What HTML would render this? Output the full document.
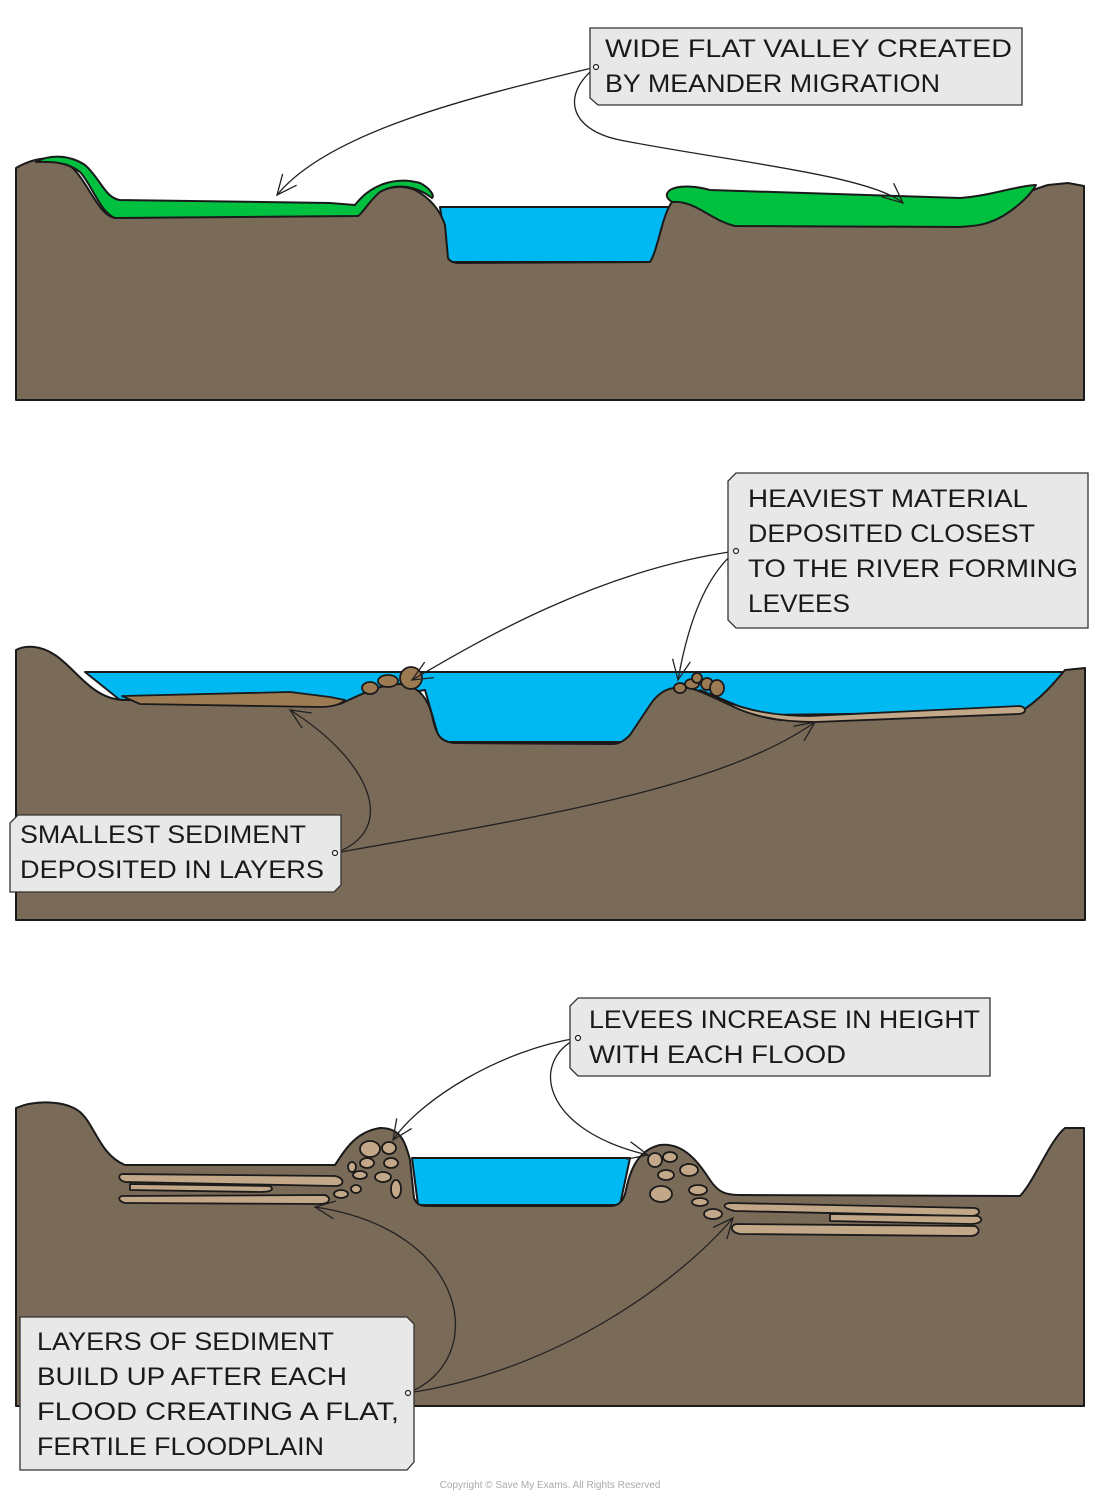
<!DOCTYPE html>
<html><head><meta charset="utf-8"><style>
html,body{margin:0;padding:0;background:#fff;}
svg{display:block;}
text{font-family:"Liberation Sans",sans-serif;font-size:25px;fill:#1a1a1a;}
</style></head><body>
<svg width="1100" height="1504" viewBox="0 0 1100 1504" xmlns="http://www.w3.org/2000/svg">
<defs>
<marker id="a" markerWidth="24" markerHeight="24" refX="22" refY="12" orient="auto" markerUnits="userSpaceOnUse">
<polyline points="2,3 22,12 2,21" fill="none" stroke="#222" stroke-width="1.3"/>
</marker>
</defs>
<g stroke="#1a1a1a" stroke-width="2" stroke-linejoin="round">
<!-- PANEL 1 -->
<path d="M440,207 L672,207 L660,262 L448,262 Z" fill="#00b9f2"/>
<path d="M16,168 C30,160 45,156 60,160 C85,168 95,215 115,218 L355,215 C370,190 395,182 415,190 C430,198 440,210 445,225 L448,258 C450,262 455,263 460,263 L650,262 C658,250 662,215 672,202 C690,190 705,205 735,212 L970,210 C1000,205 1030,190 1048,185 L1068,183 L1084,186 L1084,400 L16,400 Z" fill="#7a6a58"/>
<path d="M36,162 C50,154 70,155 85,165 C100,178 105,198 120,200 L330,203 L355,205 C370,185 395,176 420,183 C430,188 435,196 432,198 C415,185 395,183 380,192 C370,200 362,214 358,216 L115,218 C100,212 92,185 80,172 C65,160 45,162 36,162 Z" fill="#00c040"/>
<path d="M670,190 C680,184 700,187 710,190 L960,198 C990,196 1015,186 1036,185 C1030,196 1010,215 990,222 C980,226 970,226 960,227 L735,226 C710,220 695,200 672,202 C666,198 665,194 670,190 Z" fill="#00c040"/>
<!-- PANEL 2 -->
<path d="M85,672 L1062,672 L1062,700 L1030,712 L760,715 L700,690 L648,742 L440,742 L425,690 L345,703 L120,700 Z" fill="#00b9f2"/>
<path d="M16,650 C25,645 40,645 55,655 C70,665 80,680 95,690 C105,697 115,700 125,700 L340,704 C360,695 380,684 400,684 C420,686 428,700 432,715 C436,735 440,742 455,743 L612,744 C620,744 625,740 630,735 L650,705 C660,690 670,686 690,688 C715,695 740,715 780,720 L1020,712 C1040,700 1055,682 1065,670 L1085,668 L1085,920 L16,920 Z" fill="#7a6a58"/>
<path d="M122,696 L290,692 L330,697 L345,700 C340,705 330,707 320,707 L140,704 Z" fill="#9c7a52" stroke-width="1.8"/>
<path d="M722,700 C750,712 780,716 810,716 L1020,706 C1028,708 1026,714 1018,714 L815,722 C780,722 745,716 722,700 Z" fill="#c2a888" stroke-width="1.8"/>
<g fill="#9c7a52" stroke-width="1.8">
<ellipse cx="370" cy="688" rx="8" ry="6"/><ellipse cx="388" cy="681" rx="10" ry="6"/><circle cx="411" cy="678" r="11"/>
<ellipse cx="680" cy="688" rx="6" ry="5"/><ellipse cx="692" cy="684" rx="7" ry="5"/><circle cx="697" cy="678" r="5"/><ellipse cx="707" cy="684" rx="6" ry="6"/><ellipse cx="717" cy="688" rx="7" ry="8"/>
</g>
<!-- PANEL 3 -->
<path d="M412,1158 L630,1158 L620,1205 L418,1205 Z" fill="#00b9f2"/>
<path d="M16,1108 C35,1100 65,1100 80,1112 C95,1125 100,1155 125,1165 L335,1165 C345,1150 355,1132 380,1128 C400,1128 405,1140 410,1160 L414,1198 C416,1204 420,1206 428,1206 L612,1206 C620,1205 624,1200 626,1190 C630,1170 638,1150 660,1145 C685,1142 700,1165 710,1180 C718,1192 725,1195 740,1195 L1020,1196 C1035,1180 1050,1140 1065,1128 L1084,1128 L1084,1406 L16,1406 Z" fill="#7a6a58"/>
<g fill="#c2a888" stroke-width="1.8">
<path d="M122,1174 L335,1176 C345,1178 345,1186 335,1186 L125,1182 C118,1180 118,1175 122,1174 Z"/>
<path d="M130,1184 L270,1186 C275,1190 270,1192 260,1192 L130,1190 Z"/>
<path d="M122,1196 L325,1195 C332,1198 330,1204 320,1204 L125,1203 C118,1201 118,1197 122,1196 Z"/>
<path d="M730,1203 L975,1208 C982,1210 980,1216 970,1216 L735,1211 C722,1208 722,1204 730,1203 Z"/>
<path d="M830,1214 L978,1216 C985,1220 980,1224 970,1224 L830,1221 Z"/>
<path d="M736,1224 L975,1226 C982,1230 978,1236 970,1236 L740,1234 C730,1232 730,1226 736,1224 Z"/>
<ellipse cx="370" cy="1149" rx="10" ry="8"/><ellipse cx="389" cy="1148" rx="7" ry="6"/><ellipse cx="367" cy="1163" rx="7" ry="5"/><ellipse cx="391" cy="1163" rx="7" ry="5"/><ellipse cx="352" cy="1167" rx="4" ry="5"/><ellipse cx="360" cy="1175" rx="7" ry="4"/><ellipse cx="383" cy="1177" rx="8" ry="5"/><ellipse cx="396" cy="1189" rx="5" ry="9"/><ellipse cx="356" cy="1189" rx="5" ry="4"/><ellipse cx="341" cy="1194" rx="7" ry="4"/>
<ellipse cx="655" cy="1160" rx="7" ry="7"/><ellipse cx="670" cy="1157" rx="7" ry="5"/><ellipse cx="689" cy="1170" rx="9" ry="6"/><ellipse cx="666" cy="1175" rx="8" ry="5"/><ellipse cx="661" cy="1194" rx="11" ry="8"/><ellipse cx="698" cy="1190" rx="9" ry="5"/><ellipse cx="700" cy="1202" rx="8" ry="4"/><ellipse cx="713" cy="1214" rx="9" ry="5"/>
</g>
</g>
<!-- connectors -->
<g fill="none" stroke="#222" stroke-width="1.3">
<path d="M596,67 C480,95 330,130 277,195" marker-end="url(#a)"/>
<path d="M596,67 C560,95 570,130 620,140 C720,160 870,175 903,203" marker-end="url(#a)"/>
<path d="M736,551 C600,570 480,640 412,680" marker-end="url(#a)"/>
<path d="M736,551 C700,580 685,640 678,680" marker-end="url(#a)"/>
<path d="M335,853 C400,830 370,760 290,710" marker-end="url(#a)"/>
<path d="M335,853 C520,820 720,790 815,722" marker-end="url(#a)"/>
<path d="M578,1038 C500,1050 420,1100 393,1140" marker-end="url(#a)"/>
<path d="M578,1038 C530,1060 540,1130 648,1155" marker-end="url(#a)"/>
<path d="M408,1393 C490,1360 470,1230 315,1207" marker-end="url(#a)"/>
<path d="M408,1393 C560,1370 680,1280 733,1218" marker-end="url(#a)"/>
</g>
<!-- label boxes -->
<g fill="#e8e8e8" stroke="#333" stroke-width="1.3">
<path d="M590,28 L1022,28 L1022,105 L598,105 L590,98 Z"/>
<path d="M736,473 L1088,473 L1088,628 L736,628 L728,620 L728,481 Z"/>
<path d="M18,815 L341,815 L341,885 L334,892 L10,892 L10,823 Z"/>
<path d="M578,998 L990,998 L990,1076 L578,1076 L570,1068 L570,1006 Z"/>
<path d="M20,1317 L407,1317 L414,1324 L414,1462 L407,1470 L20,1470 Z"/>
</g>
<g fill="#fff" stroke="#222" stroke-width="1.2">
<circle cx="596" cy="67" r="2.5"/><circle cx="736" cy="551" r="2.5"/><circle cx="335" cy="853" r="2.5"/><circle cx="578" cy="1038" r="2.5"/><circle cx="408" cy="1393" r="2.5"/>
</g>
<text x="605" y="57" textLength="407" lengthAdjust="spacingAndGlyphs">WIDE FLAT VALLEY CREATED</text>
<text x="605" y="92" textLength="335" lengthAdjust="spacingAndGlyphs">BY MEANDER MIGRATION</text>
<text x="748" y="507" textLength="280" lengthAdjust="spacingAndGlyphs">HEAVIEST MATERIAL</text>
<text x="748" y="542" textLength="287" lengthAdjust="spacingAndGlyphs">DEPOSITED CLOSEST</text>
<text x="748" y="577" textLength="330" lengthAdjust="spacingAndGlyphs">TO THE RIVER FORMING</text>
<text x="748" y="612" textLength="102" lengthAdjust="spacingAndGlyphs">LEVEES</text>
<text x="20" y="843" textLength="286" lengthAdjust="spacingAndGlyphs">SMALLEST SEDIMENT</text>
<text x="20" y="878" textLength="304" lengthAdjust="spacingAndGlyphs">DEPOSITED IN LAYERS</text>
<text x="589" y="1028" textLength="391" lengthAdjust="spacingAndGlyphs">LEVEES INCREASE IN HEIGHT</text>
<text x="589" y="1063" textLength="257" lengthAdjust="spacingAndGlyphs">WITH EACH FLOOD</text>
<text x="37" y="1350" textLength="297" lengthAdjust="spacingAndGlyphs">LAYERS OF SEDIMENT</text>
<text x="37" y="1385" textLength="310" lengthAdjust="spacingAndGlyphs">BUILD UP AFTER EACH</text>
<text x="37" y="1420" textLength="362" lengthAdjust="spacingAndGlyphs">FLOOD CREATING A FLAT,</text>
<text x="37" y="1455" textLength="287" lengthAdjust="spacingAndGlyphs">FERTILE FLOODPLAIN</text>
<text x="550" y="1488" text-anchor="middle" style="font-size:10px;fill:#aaa">Copyright © Save My Exams. All Rights Reserved</text>
</svg>
</body></html>
